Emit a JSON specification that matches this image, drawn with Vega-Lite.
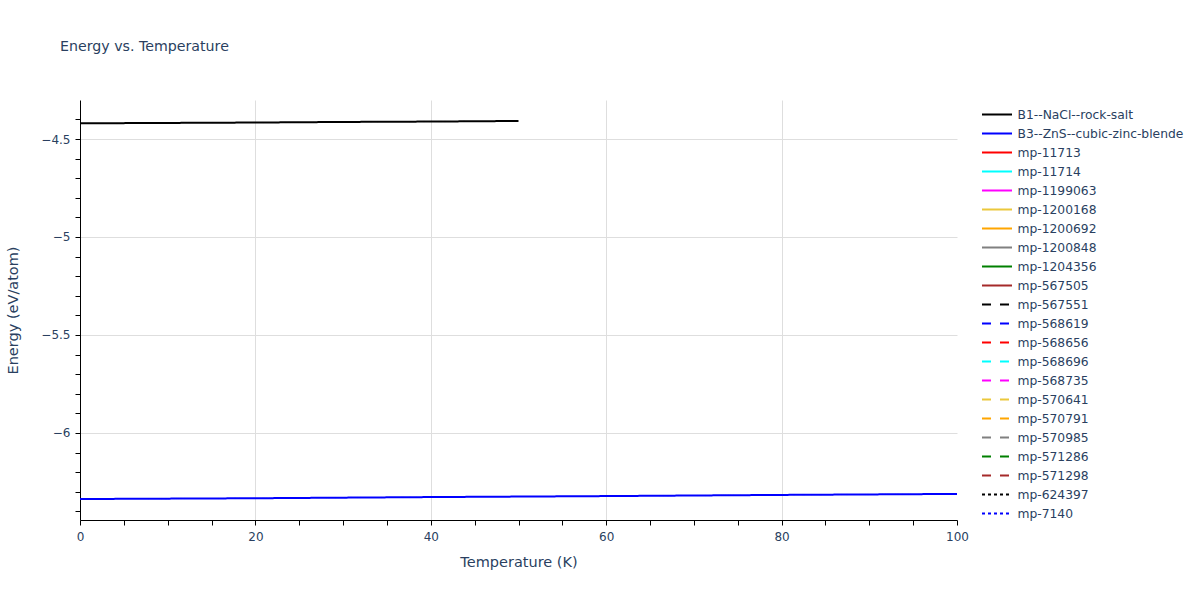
{
  "$schema": "https://vega.github.io/schema/vega-lite/v6.json",
  "width": 877,
  "height": 420,
  "autosize": {"type": "none"},
  "padding": {"left": 80, "top": 100, "right": 243, "bottom": 80},
  "background": "white",
  "title": {
    "text": "Energy vs. Temperature",
    "anchor": "start",
    "frame": "group",
    "dx": -20,
    "offset": 39,
    "baseline": "middle",
    "font": "DejaVu Sans",
    "fontSize": 14.2,
    "fontWeight": "normal",
    "color": "#2a3f5f"
  },
  "data": {
    "values": [
      {"material": "B1--NaCl--rock-salt", "temperature": 0, "energy": -4.420},
      {"material": "B1--NaCl--rock-salt", "temperature": 10, "energy": -4.418},
      {"material": "B1--NaCl--rock-salt", "temperature": 20, "energy": -4.416},
      {"material": "B1--NaCl--rock-salt", "temperature": 30, "energy": -4.413},
      {"material": "B1--NaCl--rock-salt", "temperature": 40, "energy": -4.411},
      {"material": "B1--NaCl--rock-salt", "temperature": 50, "energy": -4.408},
      {"material": "B3--ZnS--cubic-zinc-blende", "temperature": 0, "energy": -6.337},
      {"material": "B3--ZnS--cubic-zinc-blende", "temperature": 20, "energy": -6.333},
      {"material": "B3--ZnS--cubic-zinc-blende", "temperature": 40, "energy": -6.327},
      {"material": "B3--ZnS--cubic-zinc-blende", "temperature": 60, "energy": -6.322},
      {"material": "B3--ZnS--cubic-zinc-blende", "temperature": 80, "energy": -6.316},
      {"material": "B3--ZnS--cubic-zinc-blende", "temperature": 100, "energy": -6.311}
    ]
  },
  "mark": {"type": "line", "strokeWidth": 2, "clip": true},
  "encoding": {
    "x": {
      "field": "temperature",
      "type": "quantitative",
      "title": "Temperature (K)",
      "scale": {"domain": [0, 100], "nice": false, "zero": false},
      "axis": {
        "values": [0, 5, 10, 15, 20, 25, 30, 35, 40, 45, 50, 55, 60, 65, 70, 75, 80, 85, 90, 95, 100],
        "labelExpr": "datum.value % 20 === 0 ? datum.label : ''",
        "gridOpacity": {"condition": {"test": "datum.value % 20 === 0 && datum.value > 0 && datum.value < 100", "value": 1}, "value": 0},
        "labelFlush": false,
        "tickSize": 5,
        "labelPadding": 6,
        "titlePadding": 13
      }
    },
    "y": {
      "field": "energy",
      "type": "quantitative",
      "title": "Energy (eV/atom)",
      "scale": {"domain": [-6.444, -4.301], "nice": false, "zero": false},
      "axis": {
        "values": [-6.4, -6.3, -6.2, -6.1, -6, -5.9, -5.8, -5.7, -5.6, -5.5, -5.4, -5.3, -5.2, -5.1, -5, -4.9, -4.8, -4.7, -4.6, -4.5, -4.4, -4.3],
        "labelExpr": "abs(datum.value * 2 - round(datum.value * 2)) < 0.000001 ? format(datum.value, '~g') : ''",
        "gridOpacity": {"condition": {"test": "abs(datum.value * 2 - round(datum.value * 2)) < 0.000001", "value": 1}, "value": 0},
        "labelFlush": false,
        "tickSize": 5,
        "labelPadding": 5,
        "titlePadding": 20
      }
    },
    "color": {
      "field": "material",
      "type": "nominal",
      "title": null,
      "scale": {
        "domain": ["B1--NaCl--rock-salt", "B3--ZnS--cubic-zinc-blende", "mp-11713", "mp-11714", "mp-1199063", "mp-1200168", "mp-1200692", "mp-1200848", "mp-1204356", "mp-567505", "mp-567551", "mp-568619", "mp-568656", "mp-568696", "mp-568735", "mp-570641", "mp-570791", "mp-570985", "mp-571286", "mp-571298", "mp-624397", "mp-7140"],
        "range": ["black", "blue", "red", "cyan", "magenta", "#ebc83c", "orange", "gray", "green", "brown", "black", "blue", "red", "cyan", "magenta", "#ebc83c", "orange", "gray", "green", "brown", "black", "blue"]
      }
    },
    "strokeDash": {
      "field": "material",
      "type": "nominal",
      "title": null,
      "scale": {
        "domain": ["B1--NaCl--rock-salt", "B3--ZnS--cubic-zinc-blende", "mp-11713", "mp-11714", "mp-1199063", "mp-1200168", "mp-1200692", "mp-1200848", "mp-1204356", "mp-567505", "mp-567551", "mp-568619", "mp-568656", "mp-568696", "mp-568735", "mp-570641", "mp-570791", "mp-570985", "mp-571286", "mp-571298", "mp-624397", "mp-7140"],
        "range": [[1, 0], [1, 0], [1, 0], [1, 0], [1, 0], [1, 0], [1, 0], [1, 0], [1, 0], [1, 0], [9, 9], [9, 9], [9, 9], [9, 9], [9, 9], [9, 9], [9, 9], [9, 9], [9, 9], [9, 9], [3, 3], [3, 3]]
      }
    }
  },
  "config": {
    "view": {"stroke": null},
    "font": "DejaVu Sans",
    "axis": {
      "domainColor": "black",
      "domainWidth": 1,
      "tickColor": "black",
      "gridColor": "#dedede",
      "labelFont": "DejaVu Sans",
      "labelFontSize": 12,
      "labelColor": "#2a3f5f",
      "titleFont": "DejaVu Sans",
      "titleFontSize": 14.5,
      "titleFontWeight": "normal",
      "titleColor": "#2a3f5f"
    },
    "legend": {
      "orient": "none",
      "legendX": 908.5,
      "legendY": 6,
      "padding": 0,
      "symbolType": "M-2,0H2",
      "symbolSize": 225,
      "symbolStrokeWidth": 2,
      "labelFont": "DejaVu Sans",
      "labelFontSize": 12.3,
      "labelColor": "#2a3f5f",
      "labelOffset": 12,
      "rowPadding": 4,
      "labelLimit": 300
    }
  }
}
